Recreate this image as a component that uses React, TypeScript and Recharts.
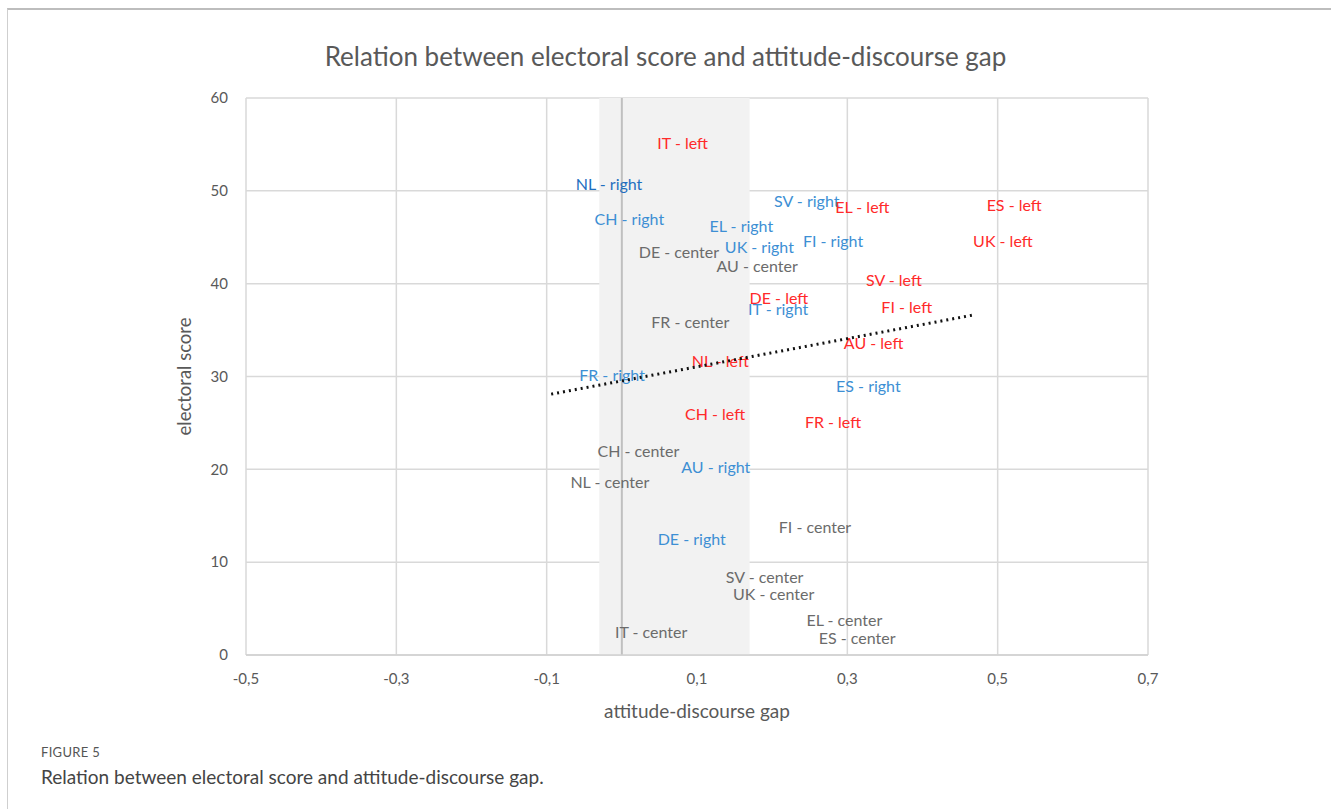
import {
  ScatterChart,
  Scatter,
  XAxis,
  YAxis,
  CartesianGrid,
  ReferenceArea,
  ReferenceLine,
} from 'recharts';

// party family per country: gap (x) and electoral score (y)
const leftCountries = ['IT', 'ES', 'EL', 'UK', 'SV', 'DE', 'FI', 'AU', 'NL', 'CH', 'FR'];
const leftGap = [0.081, 0.522, 0.32, 0.507, 0.362, 0.209, 0.379, 0.335, 0.131, 0.124, 0.281];
const leftScore = [55.2, 48.5, 48.3, 44.7, 40.5, 38.5, 37.5, 33.7, 31.7, 26.0, 25.2];

const rightCountries = ['NL', 'SV', 'CH', 'EL', 'FI', 'UK', 'IT', 'FR', 'ES', 'AU', 'DE'];
const rightGap = [-0.017, 0.246, 0.01, 0.159, 0.281, 0.183, 0.208, -0.013, 0.328, 0.125, 0.093];
const rightScore = [50.8, 49.0, 47.0, 46.3, 44.6, 44.0, 37.3, 30.2, 29.0, 20.3, 12.5];

const centerCountries = ['DE', 'AU', 'FR', 'CH', 'NL', 'FI', 'SV', 'UK', 'EL', 'ES', 'IT'];
const centerGap = [0.076, 0.18, 0.091, 0.022, -0.016, 0.257, 0.19, 0.202, 0.296, 0.313, 0.039];
const centerScore = [43.5, 42.0, 35.9, 22.0, 18.7, 13.8, 8.5, 6.6, 3.8, 1.9, 2.5];

// linear trend line end points
const trendGap = [-0.094, 0.466];
const trendScore = [28.1, 36.6];

const xTicks = [-0.5, -0.3, -0.1, 0.1, 0.3, 0.5, 0.7];
const yTicks = [0, 10, 20, 30, 40, 50, 60];

const build = (countries: string[], gap: number[], score: number[], family: string) =>
  countries.map((c, i) => ({ x: gap[i], y: score[i], label: `${c} - ${family}` }));

const leftData = build(leftCountries, leftGap, leftScore, 'left');
const rightData = build(rightCountries, rightGap, rightScore, 'right');
const centerData = build(centerCountries, centerGap, centerScore, 'center');
const trendData = trendGap.map((x, i) => ({ x, y: trendScore[i] }));

const FONT = 'Lato, "Open Sans", sans-serif';

const labelShape = (color: string) => (props: any) => {
  const { cx, cy, payload } = props;
  const fill = payload.label === 'NL - right' ? '#1f6fbf' : color;
  return (
    <text
      x={cx}
      y={cy}
      textAnchor="middle"
      dominantBaseline="central"
      fill={fill}
      fontSize={16}
      fontFamily={FONT}
    >
      {payload.label}
    </text>
  );
};

const fmt = (v: number) => v.toFixed(1).replace('.', ',');

export default function App() {
  return (
    <div style={{ position: 'absolute', left: 0, top: 0, width: 1331, height: 809, fontFamily: FONT }}>
      <div
        style={{
          position: 'absolute',
          left: 7,
          top: 8,
          width: 1324,
          height: 801,
          borderTop: '2px solid #bdbdbd',
          borderLeft: '1px solid #cfcfcf',
        }}
      />
      <div
        style={{
          position: 'absolute',
          left: 0,
          width: 1331,
          top: 40,
          textAlign: 'center',
          fontSize: 26,
          color: '#595959',
          paddingRight: 6,
        }}
      >
        Relation between electoral score and attitude-discourse gap
      </div>
      <div style={{ position: 'absolute', left: 0, top: 0 }}>
        <ScatterChart width={1331} height={730} margin={{ top: 98, right: 183, left: 176, bottom: 12 }}>
          <ReferenceArea x1={-0.03} x2={0.17} y1={0} y2={60} fill="#f2f2f2" fillOpacity={1} stroke="none" />
          <CartesianGrid stroke="#d9d9d9" strokeWidth={1.5} />
          <ReferenceLine x={0} stroke="#c0c0c0" strokeWidth={2} />
          <XAxis
            type="number"
            dataKey="x"
            domain={[-0.5, 0.7]}
            ticks={xTicks}
            tickFormatter={fmt}
            tickLine={false}
            axisLine={{ stroke: '#d0d0d0', strokeWidth: 1.5 }}
            tick={{ fill: '#595959', fontSize: 15, fontFamily: FONT }}
            tickMargin={12}
            height={63}
            label={{
              value: 'attitude-discourse gap',
              position: 'insideBottom',
              offset: 0,
              style: { fill: '#595959', fontSize: 19, fontFamily: FONT },
            }}
          />
          <YAxis
            type="number"
            dataKey="y"
            domain={[0, 60]}
            ticks={yTicks}
            tickLine={false}
            axisLine={false}
            width={70}
            tickMargin={12}
            tick={{ fill: '#595959', fontSize: 15, fontFamily: FONT }}
            label={{
              value: 'electoral score',
              angle: -90,
              position: 'insideLeft',
              offset: 8,
              style: { fill: '#595959', fontSize: 18.5, fontFamily: FONT, textAnchor: 'middle' },
            }}
          />
          <Scatter data={centerData} shape={labelShape('#6b6b6b')} isAnimationActive={false} />
          <Scatter data={rightData} shape={labelShape('#3d8fd4')} isAnimationActive={false} />
          <Scatter data={leftData} shape={labelShape('#ff2a2a')} isAnimationActive={false} />
          <Scatter
            data={trendData}
            line={{ stroke: '#111', strokeWidth: 3, strokeDasharray: '2 4' }}
            shape={() => null}
            isAnimationActive={false}
          />
        </ScatterChart>
      </div>
      <div
        style={{
          position: 'absolute',
          left: 41,
          top: 744,
          fontSize: 13,
          color: '#555',
          letterSpacing: 0.3,
        }}
      >
        FIGURE 5
      </div>
      <div style={{ position: 'absolute', left: 41, top: 765, fontSize: 19, color: '#444' }}>
        Relation between electoral score and attitude-discourse gap.
      </div>
    </div>
  );
}
